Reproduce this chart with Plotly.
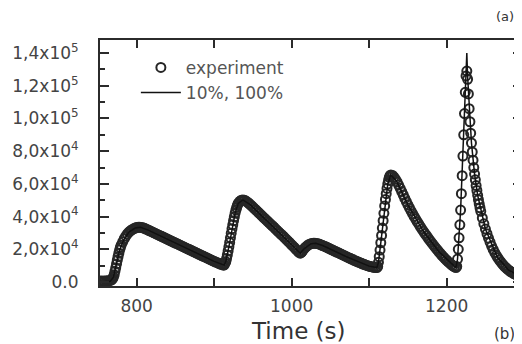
import plotly.graph_objects as go

# Experimental data (time in s, signal) - rows of exp_t and exp_y correspond
exp_t = [753, 755, 757, 759, 761, 763, 765, 767,
         768, 769, 770, 771, 772, 773, 774, 775, 776, 777, 778, 779, 780,
         782, 784, 786, 788, 790, 792, 794, 796, 798, 800, 802, 804, 806, 808, 810, 812, 814, 816,
         818, 820, 822, 824, 826, 828, 830, 832, 834, 836, 838, 840, 842, 844, 846, 848, 850, 852, 854, 856,
         858, 860, 862, 864, 866, 868, 870, 872, 874, 876, 878, 880, 882, 884, 886, 888, 890, 892, 894, 896,
         898, 900, 902, 904, 906, 908, 910, 912,
         913, 914, 915, 916, 917, 918, 919, 920, 921, 922, 923, 924, 925, 926, 927, 928, 929, 930, 931,
         933, 935, 937, 939, 941, 943, 945, 947, 949, 951, 953, 955, 957, 959, 961, 963, 965, 967, 969, 971,
         973, 975, 977, 979, 981, 983, 985, 987, 989, 991, 993, 995, 997, 999, 1001, 1003, 1005, 1007, 1009, 1011,
         1012, 1013, 1014, 1016, 1018, 1020, 1022, 1024, 1026, 1028, 1030, 1032, 1034, 1036, 1038, 1040,
         1042, 1044, 1046, 1048, 1050, 1052, 1054, 1056, 1058, 1060, 1062, 1064, 1066, 1068, 1070, 1072, 1074, 1076, 1078, 1080,
         1082, 1084, 1086, 1088, 1090, 1092, 1094, 1096, 1098, 1100, 1102, 1104, 1106, 1108, 1110,
         1111, 1112, 1113, 1114, 1115, 1116, 1117, 1118, 1119, 1120, 1121, 1122, 1123, 1124, 1125, 1126, 1127, 1128,
         1130, 1132, 1134, 1136, 1138, 1140, 1142, 1144, 1146, 1148, 1150, 1152, 1154, 1156, 1158, 1160, 1162, 1164, 1166, 1168, 1170,
         1172, 1174, 1176, 1178, 1180, 1182, 1184, 1186, 1188, 1190, 1192, 1194, 1196, 1198, 1200, 1202, 1204, 1206, 1208, 1210, 1212,
         1213, 1214, 1215, 1216, 1217, 1218, 1219, 1220, 1221, 1222, 1223, 1224, 1225, 1226,
         1227, 1228, 1229, 1230, 1231, 1232, 1233, 1234, 1235, 1236, 1237, 1238, 1239, 1240, 1241, 1242, 1243, 1244,
         1246, 1248, 1250, 1252, 1254, 1256, 1258, 1260, 1262, 1264, 1266, 1268, 1270, 1272, 1274, 1276, 1278, 1280,
         1282, 1284, 1286, 1288, 1290, 1292, 1294, 1296]
exp_y = [600, 500, 600, 500, 700, 600, 800, 1200,
         1500, 2200, 3000, 4500, 6500, 8700, 11000, 13300, 15500, 17600, 19500, 21100, 22500,
         24600, 26500, 28000, 29400, 30500, 31300, 32000, 32500, 33000, 33300, 33500, 33500, 33400, 33100, 32800, 32400, 32000, 31500,
         31050, 30600, 30150, 29700, 29250, 28800, 28350, 27900, 27450, 27000, 26550, 26100, 25650, 25200, 24750, 24300, 23850, 23400, 22950, 22500,
         22050, 21600, 21150, 20700, 20250, 19800, 19350, 18900, 18450, 18000, 17550, 17100, 16650, 16200, 15750, 15300, 14850, 14400, 13950, 13500,
         13050, 12600, 12200, 11800, 11400, 11000, 10700, 10300,
         10500, 11500, 12500, 14300, 16500, 19000, 21500, 24200, 27000, 29800, 32500, 35000, 37500, 39800, 42000, 43900, 45500, 46900, 48000,
         49300, 50000, 50200, 50000, 49500, 48800, 48000, 47100, 46200, 45300, 44400, 43500, 42600, 41700, 40800, 39800, 38900, 38000, 37100, 36200,
         35300, 34400, 33500, 32500, 31600, 30700, 29800, 28900, 28000, 27000, 26100, 25100, 24200, 23200, 22300, 21300, 20300, 19300, 18300, 17600,
         17900, 18500, 19100, 20300, 21300, 22100, 22800, 23300, 23600, 23700, 23700, 23600, 23400, 23100, 22700, 22300,
         21900, 21500, 21050, 20600, 20150, 19700, 19250, 18800, 18350, 17900, 17450, 17000, 16550, 16100, 15650, 15200, 14750, 14300, 13850, 13400,
         13000, 12600, 12200, 11800, 11400, 11000, 10650, 10300, 10000, 9700, 9450, 9200, 9000, 8850, 8800,
         9500, 12000, 15500, 19500, 24000, 28500, 33000, 37500, 42000, 46500, 50500, 54000, 57200, 60000, 62300, 64000, 65000, 65500,
         65200, 64200, 62800, 61200, 59300, 57300, 55300, 53200, 51100, 49100, 47200, 45300, 43500, 41800, 40100, 38500, 36900, 35400, 33900, 32400, 31000,
         29600, 28300, 26900, 25600, 24400, 23100, 21900, 20700, 19600, 18400, 17300, 16200, 15200, 14200, 13300, 12300, 11500, 10700, 9900, 9300, 8800,
         9500, 14000, 20000, 27000, 35000, 44000, 54000, 65000, 77000, 90000, 103000, 116000, 126000, 129000,
         124000, 115000, 106000, 98000, 91000, 85000, 79500, 74500, 70000, 66000, 62500, 59000, 56000, 53000, 50300, 47800, 45400, 43200,
         39200, 35600, 32400, 29500, 26800, 24300, 22000, 19900, 18000, 16300, 14800, 13400, 12100, 10900, 9900, 8900, 8000, 7200,
         6500, 5900, 5300, 4800, 4400, 4000, 3700, 3400]

# Model curve (10%, 100%)
model_t = [753, 766, 770, 774, 778, 783, 790, 798, 805, 815, 840, 870, 900, 913, 915, 919, 923, 927,
           931, 937, 946, 970, 1000, 1011, 1016, 1025, 1031, 1040, 1070, 1100, 1110, 1112, 1116,
           1120, 1124, 1128, 1135, 1150, 1170, 1190, 1212, 1214, 1218, 1222, 1225, 1226, 1227, 1229,
           1232, 1236, 1240, 1250, 1265, 1280, 1296]
model_y = [0, 500, 3000, 11000, 19500, 25500, 30500, 33000, 33400, 31700, 26100, 19400, 12600, 10300,
           12500, 21500, 32500, 42000, 48000, 50200, 47500, 36700, 22800, 17600, 20300, 23400, 23700,
           22300, 15600, 9700, 8800, 12000, 28500, 46500, 60000, 65500, 62000, 47200, 31000, 18500,
           8800, 14000, 44000, 92000, 136000, 140000, 126000, 106000, 85000, 66000, 53000, 32400,
           15500, 7200, 3400]

y_tickvals = [0, 20000, 40000, 60000, 80000, 100000, 120000, 140000]
y_ticktext = ["0.0", "2,0x10<sup>4</sup>", "4,0x10<sup>4</sup>", "6,0x10<sup>4</sup>",
              "8,0x10<sup>4</sup>", "1,0x10<sup>5</sup>", "1,2x10<sup>5</sup>", "1,4x10<sup>5</sup>"]
x_tickvals = [800, 1000, 1200]
x_ticktext = ["800", "1000", "1200"]
x_title = "Time (s)"

FONT = "DejaVu Sans"
AX = "#2b2b2b"

fig = go.Figure()
fig.add_trace(go.Scatter(
    x=exp_t, y=exp_y, mode="markers", name="experiment",
    marker=dict(symbol="circle-open", size=9, color="#262626", line=dict(width=2, color="#262626")),
))
fig.add_trace(go.Scatter(
    x=model_t, y=model_y, mode="lines", name="10%, 100%",
    line=dict(color="#111111", width=1.5),
))

# The page body has an 8 px margin, so the figure is sized to fit the window from there.
fig.update_layout(
    width=514, height=336,
    margin=dict(l=92, r=0, t=32, b=58, autoexpand=False),
    paper_bgcolor="white", plot_bgcolor="white",
    font=dict(family=FONT, color="#333333"),
    showlegend=True,
    legend=dict(x=0.085, y=0.96, xanchor="left", yanchor="top", bgcolor="rgba(0,0,0,0)",
                font=dict(size=17, family=FONT, color="#555555"), tracegroupgap=0,
                itemwidth=40),
    xaxis=dict(range=[752.7, 1297.2], tickvals=x_tickvals, ticktext=x_ticktext, automargin=False,
               ticks="inside", ticklen=8, tickwidth=1.5, tickcolor=AX,
               minor=dict(dtick=100, tick0=800, ticks="inside", ticklen=8, tickwidth=1.5, tickcolor=AX),
               showline=True, linewidth=2, linecolor=AX, mirror="ticks",
               showgrid=False, zeroline=False,
               tickfont=dict(size=17, family=FONT, color="#444444"), ticklabelstandoff=4),
    yaxis=dict(range=[-2450, 148000], tickvals=y_tickvals, ticktext=y_ticktext, automargin=False,
               ticks="inside", ticklen=9, tickwidth=1.5, tickcolor=AX,
               minor=dict(dtick=10000, tick0=0, ticks="inside", ticklen=5, tickwidth=1.5, tickcolor=AX),
               showline=True, linewidth=2, linecolor=AX, mirror="ticks",
               showgrid=False, zeroline=False,
               tickfont=dict(size=17, family=FONT, color="#444444"), ticklabelstandoff=16),
    annotations=[
        dict(text=x_title, xref="paper", yref="paper", x=0.47, y=0.0, yshift=-45, xanchor="center",
             yanchor="middle", showarrow=False, font=dict(size=23, family=FONT, color="#333333")),
        dict(text="(a)", xref="paper", yref="paper", x=1.0, y=1.0, yshift=24, xshift=-6, xanchor="right",
             yanchor="middle", showarrow=False, font=dict(size=13, family=FONT, color="#333333")),
        dict(text="(b)", xref="paper", yref="paper", x=1.0, y=0.0, yshift=-48, xshift=-5, xanchor="right",
             yanchor="middle", showarrow=False, font=dict(size=15, family=FONT, color="#333333")),
    ],
)

fig.write_html("out.html")
